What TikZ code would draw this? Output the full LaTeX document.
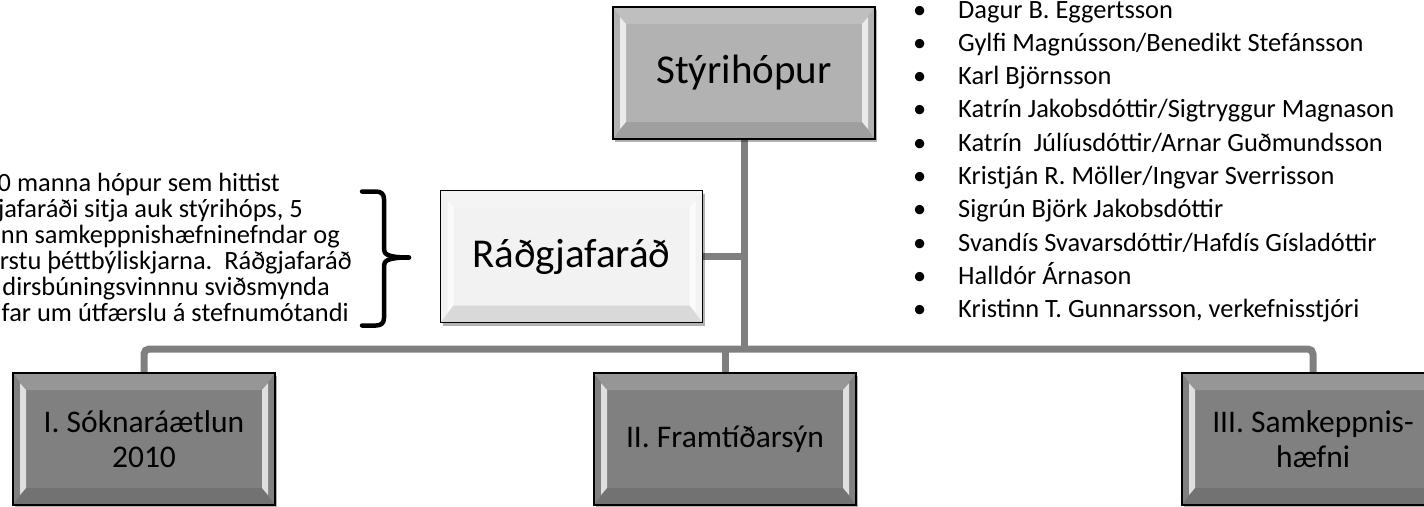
\documentclass[tikz,border=0pt]{standalone}
\usepackage{fontspec}
\setmainfont{Carlito}
\usetikzlibrary{shadows,backgrounds}
\definecolor{conngray}{HTML}{7F7F7F}
\definecolor{topgray}{HTML}{B2B2B2}
\definecolor{midgray}{HTML}{808080}
\definecolor{lightbox}{HTML}{F2F2F2}
\tikzset{
  bevelbox/.style={draw=black, line width=1.1pt, minimum width=262pt, minimum height=132pt,
    inner sep=0pt, align=center, text=black,
    drop shadow={shadow xshift=2pt, shadow yshift=-3pt, opacity=0.3, fill=black},
    path picture={
      \fill[white,opacity=0.75]
        ([shift={(7pt,-10pt)}]path picture bounding box.north west) --
        ([shift={(13pt,-17pt)}]path picture bounding box.north west) --
        ([shift={(13pt,17pt)}]path picture bounding box.south west) --
        ([shift={(7pt,10pt)}]path picture bounding box.south west) -- cycle;
      \fill[white,opacity=0.75]
        ([shift={(-7pt,-10pt)}]path picture bounding box.north east) --
        ([shift={(-13pt,-17pt)}]path picture bounding box.north east) --
        ([shift={(-13pt,17pt)}]path picture bounding box.south east) --
        ([shift={(-7pt,10pt)}]path picture bounding box.south east) -- cycle;
      \fill[white,opacity=0.18]
        (path picture bounding box.north west) --
        (path picture bounding box.north east) --
        ([shift={(-13pt,-17pt)}]path picture bounding box.north east) --
        ([shift={(13pt,-17pt)}]path picture bounding box.north west) -- cycle;
      \fill[black,opacity=0.10]
        (path picture bounding box.south west) --
        (path picture bounding box.south east) --
        ([shift={(-13pt,17pt)}]path picture bounding box.south east) --
        ([shift={(13pt,17pt)}]path picture bounding box.south west) -- cycle;
    }},
  bigtext/.style={font=\fontsize{41}{49}\selectfont},
  subtext/.style={font=\fontsize{31.5}{35}\selectfont},
  conn/.style={draw=conngray, line width=7pt},
  sidetext/.style={anchor=base east, inner sep=0pt, font=\fontsize{26.4}{27}\selectfont},
  listtext/.style={anchor=base west, inner sep=0pt, font=\fontsize{26.4}{33}\selectfont},
  bracestyle/.style={line width=4.5pt, line cap=round, line join=round}
}
\begin{document}
\begin{tikzpicture}[x=1pt,y=-1pt]
\useasboundingbox (0,0) rectangle (1424,506);

\node[bevelbox, fill=topgray, bigtext] (sty) at (744,73) {Stýrihópur};
\node[bevelbox, fill=lightbox, bigtext] (rad) at (571.5,256.5) {Ráðgjafaráð};
\node[bevelbox, fill=midgray, subtext] (s1) at (144,439) {I. Sóknaráætlun\\2010};
\node[bevelbox, fill=midgray, subtext] (s2) at (725,439) {II. Framtíðarsýn};
\node[bevelbox, fill=midgray, subtext] (s3) at (1313,439) {III. Samkeppnis-\\hæfni};

\coordinate (bar) at (744,349);
\begin{scope}[on background layer]
  \draw[conn] (sty.south) -- (bar);
  \draw[conn, rounded corners=5pt] (s1.north) |- (s3.north |- bar) -- (s3.north);
  \draw[conn] (s2.north) -- (s2.north |- bar);
  \draw[conn] (rad.east) -- (rad.east -| sty.south);
\end{scope}

\node[sidetext] (l1) at (280,191) {0 manna hópur sem hittist};
\node[sidetext] (l2) at (303,217.1) {jafaráði sitja auk stýrihóps, 5};
\node[sidetext] (l3) at (340,243.2) {nn samkeppnishæfninefndar og};
\node[sidetext] (l4) at (352,269.3) {rstu þéttbýliskjarna.\ \ Ráðgjafaráð};
\node[sidetext] (l5) at (330,295.4) {dirsbúningsvinnnu sviðsmynda};
\node[sidetext] (l6) at (349,321.5) {far um útfærslu á stefnumótandi};

\draw[bracestyle] (362,191.5) -- (376,191.5) .. controls (381,191.5) and (384,194) .. (384,199)
  -- (384,249) .. controls (384,254) and (387,257.5) .. (409,257.5);
\draw[bracestyle] (409,257.5) .. controls (387,257.5) and (384,261) .. (384,266)
  -- (384,318) .. controls (384,323) and (381,325.5) .. (376,325.5) -- (362,325.5);

\foreach \name [count=\i] in {Dagur B. Eggertsson,
  Gylfi Magnússon/Benedikt Stefánsson,
  Karl Björnsson,
  Katrín Jakobsdóttir/Sigtryggur Magnason,
  Katrín\ \ Júlíusdóttir/Arnar Guðmundsson,
  Kristján R. Möller/Ingvar Sverrisson,
  Sigrún Björk Jakobsdóttir,
  Svandís Svavarsdóttir/Hafdís Gísladóttir,
  Halldór Árnason,
  {Kristinn T. Gunnarsson, verkefnisstjóri}} {
  \pgfmathsetmacro{\yb}{18+33.33*(\i-1)}
  \node[listtext] (bul\i) at (913,\yb) {•};
  \node[listtext] (li\i) at (958,\yb) {\name};
}
\end{tikzpicture}
\end{document}
